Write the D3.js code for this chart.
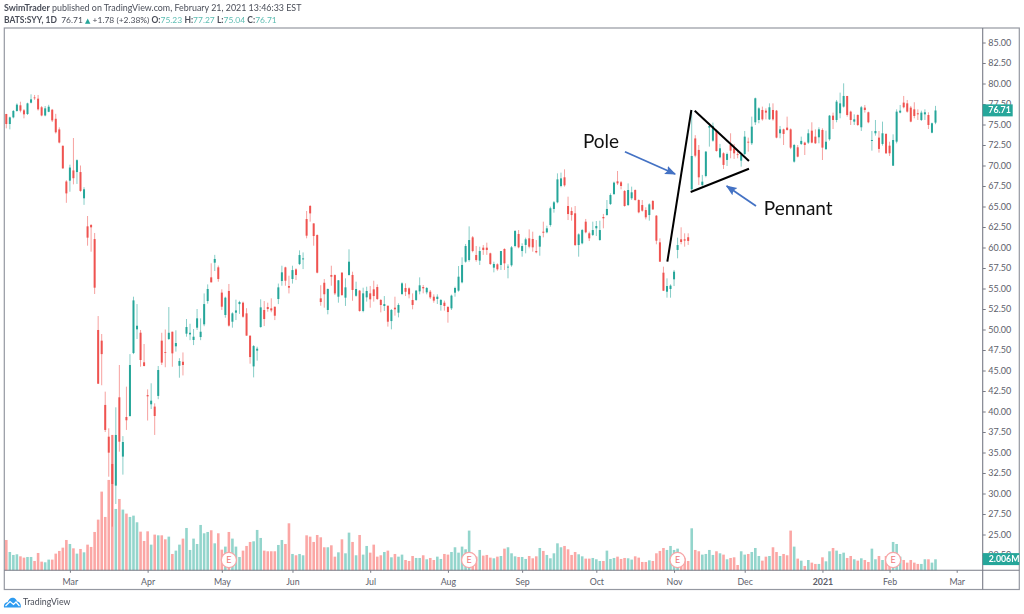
<!DOCTYPE html>
<html><head><meta charset="utf-8">
<script src="https://cdn.jsdelivr.net/npm/d3@7"></script>
<style>html,body{margin:0;padding:0;background:#fff}svg{display:block;filter:blur(.35px)}</style>
</head><body><svg id="c" width="1024" height="614"></svg>
<script>
const opens=[76.28,75.06,75.87,76.65,77.34,76.73,76.28,77.66,78.3,78.15,
77.1,76.1,76.55,76.8,75.7,74.4,72.4,68.05,68.15,69.4,
69.2,69.2,66,62.58,62.74,61.03,49.94,48.64,40.8,36.93,
33.6,30.96,41.73,34.5,39.33,39.45,47.13,50.02,49.61,46.0,
42.0,40.88,40.6,41.9,48.64,47.25,48.84,49.73,47.95,45.58,
46.07,49.49,49.4,48.72,50.22,49.08,50.63,53.47,56.36,58.15,
57.58,54.5,51.77,54.7,50.95,52.05,53.1,53.27,51.97,49.25,
45.5,47.42,50.3,52.38,52.74,52.58,52.78,53.72,55.91,57.58,
55.3,56.16,57.33,57.98,58.55,63.47,65.06,62.94,61.52,53.8,
55.7,52.38,56.64,56.64,54.0,56.93,53.88,56.65,56.65,54.11,
54.74,52.26,53.92,54.41,54.9,55.18,53.6,52.87,52.9,51.03,
52.66,52.05,54.33,55.06,55.02,53.6,53.6,54.65,55.18,54.53,
54.61,54.0,53.72,52.99,53.27,52.74,52.58,54.49,54.74,55.75,
58.27,58.47,61.24,59.08,58.4,59.98,59.98,59.29,57.54,57.95,
57.87,59.82,57.6,57.83,60.18,61.65,59.57,60.31,61.12,61.04,
59.57,60.1,61.93,61.85,62.74,64.7,65.51,67.5,68.56,65.06,
64.45,64.17,60.3,60.51,63.15,61.73,61.53,62.34,60.91,63.72,
63.96,65.3,66.52,68.07,67.95,66.89,65.18,66.0,67.01,65.79,
65.18,64.57,63.96,65.67,63.88,60.63,56.93,54.61,54.94,56.12,
59.7,61.0,61.0,61.25,67.1,73.3,71.9,67.63,68.72,74.62,
73.03,74.21,71.0,71.49,70.68,72.5,72.1,71.37,70.59,71.4,
72.9,72.71,75.27,75.55,76.77,76.69,75.63,76.77,76.69,73.93,
74.41,74.62,74.41,70.47,72.22,72.63,72.79,72.79,74.25,73.52,
73.44,74.33,72.0,73.2,76.08,75.55,76.37,77.18,78.48,76.57,
75.35,76.16,74.66,77.06,76.49,72.99,73.93,73.4,72.63,73.85,
72.42,69.98,72.91,76.45,77.67,77.58,77.06,76.85,76.37,75.55,
76.24,76.16,74.0,75.23];
const highs=[76.3,75.96,76.77,77.58,77.78,76.89,77.66,78.68,78.6,78.6,
77.25,77.25,77.4,76.9,76.3,74.65,72.45,68.2,70.1,73.35,
70.75,70,67.35,63.84,62.86,61.77,51.64,49.45,42.42,37.95,
37.14,40.51,45.67,37.0,43.03,47.0,54,53.1,49.94,48.23,
42.7,43.44,41.0,45.55,49.6,50.0,52.74,49.73,49.9,46.5,
47.2,51.28,50.7,50.06,52.5,51.36,54.4,55.5,58.07,59.1,
57.8,54.9,54,55.55,52.1,53.64,53.5,53.4,52.6,49.25,
48.1,47.9,53.68,53.47,53.27,53.8,52.78,55.6,57.78,57.66,
56.56,57.78,57.46,59.65,59.4,64.45,65.18,62.94,61.6,55.4,
56.15,55.0,57.78,56.72,56.03,57,56.24,59.78,57.05,55.83,
54.82,55.1,55.22,55.3,55.95,55.5,53.72,54.08,52.9,52.5,
54,53.2,55.75,55.63,55.14,54.4,54.82,56.36,55.43,55.18,
54.82,54.29,54.29,53.72,53.52,52.87,54.25,55.22,57.74,58.8,
60.43,62.58,61.4,60.18,60.1,60.3,60.59,59.37,58.27,58.07,
59.57,59.9,57.95,60.18,62.13,62.13,60.51,61.2,62.21,61.93,
60.91,61.53,63.15,62.66,64.98,65.67,69.04,69.13,69.53,66.2,
64.9,65.06,61.73,62.26,63.48,61.93,63.15,63.23,63.27,64.09,
65.79,66.6,68.03,69.33,68.11,67.01,67.82,67.42,67.09,65.87,
65.79,64.9,65.39,65.79,63.96,61.12,57.66,56.24,55.5,57.26,
61.2,62.46,61.73,61.73,76.77,73.7,72.5,68.85,71.77,75.15,
75.23,74.41,72.63,71.61,71.57,73.93,72.63,71.77,71.57,74.21,
73.4,75.96,78.28,77.1,77.18,76.97,77.58,77.58,76.77,74.82,
74.5,75.96,74.53,72.63,72.5,73.52,72.9,74.41,75.27,74.41,
74.66,74.53,74.25,76.16,76.45,77.99,78.89,80.02,78.48,76.69,
76.24,76.24,77.26,77.38,76.57,74.21,75.55,74.21,75.35,73.93,
72.9,73.8,76.85,77.38,78.48,77.99,77.26,77.71,76.85,76.69,
76.85,76.49,75.23,77.27];
const lows=[74.53,74.41,75.75,76.57,76.48,75.75,76.16,77.58,78.0,76.7,
76.0,76.0,76.5,75.3,73.9,72.7,69.6,65.45,66.8,67.7,
67.75,66.8,65.2,60.22,59.49,54.33,43.35,43.2,37.5,32.05,
25.96,28.72,35.1,32.3,37.75,39.37,47,48.84,45.46,45.5,
38.9,40.3,37.14,41.5,45.67,45.4,48.72,45.46,47.3,44.12,
44.4,49.12,48.7,48.1,49.94,48.7,50.4,53.15,55.75,57.13,
55.83,52.38,51.44,50.35,50.22,51.15,51.9,51.44,49.25,45.83,
44.16,46.2,50.22,50.42,52.17,52.1,51.15,53.1,55.34,55.34,
54.4,55.6,56.03,57.86,57.37,61.12,63.15,60.22,56.85,52.9,
52.66,51.85,55.34,54.2,53.27,54.1,52.87,56.57,53.5,54.0,
52.17,52.1,53.4,52.66,53.4,53.6,52.09,52.26,50.35,50.02,
51.69,51.48,54.2,54.08,53.8,52.46,53.48,54.29,54.41,54.29,
53.72,53.27,53.11,52.3,52.3,50.83,52.38,54.0,54.61,55.63,
58.15,58.27,59.41,58.27,57.87,59.1,59.1,57.87,56.97,57.17,
57.26,57.26,56.24,57.66,60.02,59.9,58.88,59.29,59.9,59.49,
59.29,59.0,61.24,61.73,62.54,64.25,65.39,67.34,67.42,63.35,
63.27,60.18,58.88,60.39,61.73,60.79,61.4,61.4,60.83,62.34,
63.88,65.18,66.4,67.62,67.09,64.98,65.06,65.8,65.71,64.17,
64.37,63.43,63.27,64.57,60.39,58.27,54.69,53.88,53.88,55.3,
58.68,60.39,60.1,60.31,67.0,71.0,67.63,67.42,68.56,72.3,
72.9,71.69,70.88,69.58,69.94,70.88,70.8,70.88,69.86,71.28,
71.69,72.5,74.94,75.15,75.47,75.63,75.55,75.47,73.32,73.32,
72.5,74.25,72.0,70.35,71.0,72.5,71.28,72.63,72.71,72.63,
72.71,70.67,71.89,73.03,74.45,75.27,75.76,77.06,75.96,74.94,
74.94,74.82,74.21,76.45,75.15,71.81,73.64,71.57,72.42,71.41,
71.16,69.94,72.7,76.37,76.97,76.45,75.27,75.76,75.55,75.43,
75.55,74.45,73.93,75.04];
const closes=[75.06,75.87,76.65,77.42,76.69,76.24,77.58,78.07,78.2,76.85,
76.1,76.97,77.17,75.5,74.05,72.8,69.65,66.6,69.75,68.45,
70.65,66.9,67.1,61.2,62.46,55.1,43.39,47.0,37.75,34.98,
31.16,37.14,36.32,36.28,38.93,45.67,53.55,50.46,46.28,45.55,
41.85,41.32,39.45,45.06,45.96,47.15,49.6,47.09,48.35,46.16,
45.67,50.3,49.6,49.12,51.36,49.73,53.1,54.94,55.75,58.6,
56.16,52.78,53.88,50.47,51.97,52.33,53.35,51.56,49.25,46.64,
47.98,47.66,52.7,51.28,52.5,52.33,51.68,55.14,56.97,55.95,
55.1,57.25,56.64,59.08,58.67,61.44,64.16,61.4,56.93,53.35,
54.3,54.94,56.44,54.4,56,54.2,55.14,58.27,54.82,54.94,
52.26,54.41,54.7,53.68,54.08,53.72,52.99,53.1,50.95,52.38,
52.46,52.99,55.63,54.6,54.29,52.99,54.74,55.39,55.02,55.06,
53.92,53.52,54.0,53.6,52.87,52.13,54.13,55.06,56.44,57.87,
60.18,60.91,59.57,58.47,59.57,59.7,59.7,57.99,57.99,57.34,
59.57,58.07,57.66,60.02,62.01,60.02,60.18,61.0,60.1,60.02,
59.41,61.4,61.8,62.34,64.78,65.51,68.31,68.43,67.58,64.08,
63.96,60.3,61.6,62.13,61.85,61.12,62.13,62.62,62.13,63.56,
64.7,66.4,67.91,67.82,67.5,65.06,67.01,66.73,65.79,64.29,
64.49,63.68,65.26,64.65,60.83,58.27,54.73,55.3,55.35,57.05,
60.3,60.67,60.84,60.8,71.16,71.2,68.56,68.03,71.69,74.82,
74.82,71.77,72.1,70.07,71.4,71.81,71.49,71.28,71.28,73.52,
72.79,74.74,78.2,76.97,75.63,76.45,77.1,75.63,73.4,74.41,
73.85,74.33,72.18,72.5,71.08,73,72.5,73.93,72.79,72.71,
74.41,72.18,72.9,76.08,75.55,77.79,77.58,78.48,76.16,75.55,
75.63,74.94,77.1,76.77,75.27,73.11,74.21,72.02,73.93,71.49,
71.49,73.11,76.57,76.69,77.1,76.57,75.35,76.04,76.24,76.45,
76.49,74.94,75.15,76.71];
const volumes=[5.53,3.34,2.80,2.92,2.55,2.31,2.43,2.43,1.70,3.16,
1.58,1.46,1.95,1.95,3.04,3.53,4.13,5.53,4.80,4.01,
3.04,3.89,3.28,4.68,4.26,6.99,9.24,14.35,9.73,16.48,
24.68,11.19,13.01,11.07,10.34,9.73,9.97,8.76,7.05,5.35,
7.11,4.68,6.51,6.38,6.38,5.65,6.14,2.98,3.59,4.68,
5.78,7.72,3.71,5.78,4.80,8.27,6.75,6.99,7.30,4.92,
6.75,3.77,4.32,6.99,5.78,4.32,2.43,3.59,4.44,5.17,
5.29,7.36,5.90,3.59,3.47,3.47,3.47,4.62,5.53,4.80,
8.57,2.98,2.74,2.98,2.74,6.38,6.14,5.17,6.44,6.02,
4.20,4.20,4.56,2.49,3.28,5.65,3.10,6.87,5.17,2.74,
6.44,2.86,4.44,3.22,4.68,2.49,2.74,3.34,3.59,2.37,
2.98,2.49,2.86,1.88,1.70,2.61,2.25,2.25,2.74,2.01,
2.25,1.88,2.49,2.07,2.98,2.86,3.34,4.20,3.22,4.32,
3.83,7.24,2.74,2.49,3.71,2.68,2.80,2.31,2.19,2.49,
2.61,3.95,4.20,3.10,2.55,2.43,2.43,2.07,2.61,2.19,
2.55,4.07,3.53,2.80,2.19,3.10,4.92,4.20,4.44,3.83,
2.80,3.34,2.92,2.55,2.13,2.13,2.25,2.01,1.70,1.70,
3.59,2.07,2.25,2.49,2.07,2.25,2.19,1.95,2.55,2.31,
1.52,1.52,1.82,1.70,3.10,3.53,4.07,3.71,4.44,3.71,
3.95,2.49,2.19,1.70,7.66,3.71,3.47,2.86,2.98,3.71,
2.80,3.47,3.10,2.86,2.01,2.25,2.37,0.97,3.47,2.86,
2.98,3.34,4.07,2.61,1.76,2.49,2.61,4.20,3.34,2.61,
2.98,2.74,7.24,4.32,2.13,1.76,0.79,1.88,1.40,1.16,
1.16,2.37,1.64,3.47,4.07,3.59,2.98,3.22,2.25,2.61,
2.01,1.76,2.19,1.88,1.52,3.95,2.01,2.61,1.88,2.61,
2.49,5.17,4.80,2.49,1.88,1.40,1.88,1.40,1.16,1.16,
2.01,2.01,1.40,2.006];

const monthLabels=["Mar","Apr","May","Jun","Jul","Aug","Sep","Oct","Nov","Dec","2021","Feb","Mar"];
const monthBars=[18,40,61,81,103,125,146,167,189,209,231,250,269];
const priceTicks=[22.5,25,27.5,30,32.5,35,37.5,40,42.5,45,47.5,50,52.5,55,57.5,60,62.5,65,67.5,70,72.5,75,77.5,80,82.5,85];
const earningsBars=[63,131,190,251];
const lastPrice=76.71, lastVolume=2.006;

const blackLines=[[187.1,58.27,193.9,76.77],[194.85,76.68,210.2,70.55],[193.7,66.77,210.2,69.6]];
const blueArrows=[[175.1,71.68,189.3,68.96],[212.2,65.06,203.9,67.5]];
const notes=[{t:"Pole",i:163.2,p:72.1},{t:"Pennant",i:214.4,p:64.0}];

const UP="#26a69a",DOWN="#ef5350",UPV="#93d5cc",DOWNV="#fba7a5",FRAME="#9598a1",AXIS="#787b86",LABEL="#5d606b";
const svg=d3.select("#c");
const x=d3.scaleLinear().domain([0,263]).range([6.3,935.5]);
const y=d3.scaleLinear().domain([80,25]).range([83.5,534.5]);
const v=d3.scaleLinear().domain([0,2.006]).range([570.3,559.3]);
const bars=d3.range(opens.length);
const isUp=i=>closes[i]>=opens[i];

const defs=svg.append("defs");
defs.append("marker").attr("id","ah").attr("markerUnits","userSpaceOnUse").attr("markerWidth",12).attr("markerHeight",10)
 .attr("refX",10).attr("refY",4.5).attr("orient","auto").append("path").attr("d","M0,0L11,4.5L0,9L2,4.5Z").attr("fill","#4472c4");

// frame
svg.append("rect").attr("x",4.3).attr("y",28).attr("width",1015).attr("height",561.5).attr("fill","#fff").attr("stroke",FRAME).attr("stroke-width",1.2);

// volume
svg.append("g").selectAll("rect").data(bars).join("rect")
 .attr("x",i=>x(i)-1.3).attr("width",2.6).attr("y",i=>v(volumes[i])).attr("height",i=>v(0)-v(volumes[i]))
 .attr("fill",i=>isUp(i)?UPV:DOWNV);

// candles
const cg=svg.append("g");
cg.selectAll("line").data(bars).join("line")
 .attr("x1",x).attr("x2",x).attr("y1",i=>y(highs[i])).attr("y2",i=>y(lows[i]))
 .attr("stroke",i=>isUp(i)?UP:DOWN).attr("stroke-opacity",.55).attr("stroke-width",1);
cg.selectAll("rect").data(bars).join("rect")
 .attr("x",i=>x(i)-1).attr("width",2).attr("y",i=>Math.min(y(opens[i]),y(closes[i])))
 .attr("height",i=>Math.max(.8,Math.abs(y(opens[i])-y(closes[i]))))
 .attr("fill",i=>isUp(i)?UP:DOWN);

// earnings
const eg=svg.append("g").selectAll("g").data(earningsBars).join("g").attr("transform",i=>`translate(${x(i)},560)`);
eg.append("circle").attr("r",7.6).attr("fill","#fff").attr("stroke","#f7a6a8").attr("stroke-width",1.3);
eg.append("text").text("E").attr("text-anchor","middle").attr("y",3.2).attr("font-family","Lato").attr("font-size",9).attr("fill","#ef7a7d");

// axes
const yAxis=d3.axisRight(y).tickValues(priceTicks).tickSize(3).tickPadding(2.5).tickFormat(d3.format(".2f"));
const yg=svg.append("g").attr("transform","translate(982.7,0)").call(yAxis);
yg.select(".domain").remove();
yg.append("line").attr("y1",28).attr("y2",589.5).attr("stroke",AXIS).attr("stroke-width",1.1);
yg.selectAll(".tick line").attr("stroke",AXIS);
yg.selectAll(".tick text").attr("font-family","Lato").attr("font-size",9).attr("fill",LABEL);

const xAxis=d3.axisBottom(x).tickValues(monthBars).tickSize(2.5).tickPadding(5.5)
 .tickFormat((d,i)=>monthLabels[i]);
const xg=svg.append("g").attr("transform","translate(0,570.3)").call(xAxis);
xg.select(".domain").remove();
xg.append("line").attr("x1",4.3).attr("x2",1019.3).attr("stroke",AXIS).attr("stroke-width",1.1);
xg.selectAll(".tick line").attr("stroke",AXIS);
xg.selectAll(".tick text").attr("font-family","Lato").attr("font-size",8.8).attr("fill",LABEL)
 .attr("font-weight",(d,i)=>monthLabels[i]==="2021"?700:400);

// last value labels
function tag(yy,w,txt,tx){
 const g=svg.append("g");
 g.append("rect").attr("x",982.7).attr("y",yy-6).attr("width",w).attr("height",12).attr("fill",UP);
 g.append("text").text(txt).attr("x",tx).attr("y",yy+3.1).attr("fill","#fff").attr("font-family","Lato").attr("font-weight",700).attr("font-size",8.8);
}
tag(y(lastPrice)-.1,30,d3.format(".2f")(lastPrice),988.3);
tag(v(lastVolume)-.2,36.6,lastVolume.toFixed(3)+"M",988.7);

// annotations
svg.append("g").selectAll("line").data(blackLines).join("line")
 .attr("x1",d=>x(d[0])).attr("y1",d=>y(d[1])).attr("x2",d=>x(d[2])).attr("y2",d=>y(d[3]))
 .attr("stroke","#000").attr("stroke-width",2);
svg.append("g").selectAll("line").data(blueArrows).join("line")
 .attr("x1",d=>x(d[0])).attr("y1",d=>y(d[1])).attr("x2",d=>x(d[2])).attr("y2",d=>y(d[3]))
 .attr("stroke","#4472c4").attr("stroke-width",1.8).attr("marker-end","url(#ah)");
svg.append("g").selectAll("text").data(notes).join("text").text(d=>d.t)
 .attr("x",d=>x(d.i)).attr("y",d=>y(d.p)).attr("font-family","Lato").attr("font-size",19).attr("fill","#111");

// header
const head=svg.append("g").attr("font-family","Lato").attr("fill","#4a4e59");
const t1=head.append("text").attr("x",4).attr("y",11).attr("font-size",8.9);
t1.append("tspan").text("SwimTrader").attr("font-weight",700);
t1.append("tspan").text(" published on TradingView.com, February 21, 2021 13:46:33 EST");
const t2=head.append("text").attr("x",4).attr("y",23).attr("font-size",8.47);
t2.append("tspan").text("BATS:SYY, 1D").attr("font-weight",700);
t2.append("tspan").text("  76.71 ").attr("xml:space","preserve");
t2.append("tspan").text("▲").attr("fill",UP).attr("font-size",7).attr("font-family","DejaVu Sans");
t2.append("tspan").text(" +1.78 (+2.38%) ");
[["O:","75.23"],["H:","77.27"],["L:","75.04"],["C:","76.71"]].forEach(([a,b])=>{
 t2.append("tspan").text(a).attr("font-weight",700);
 t2.append("tspan").text(b+" ").attr("fill","#5cbcb2");
});

// logo
const lg=svg.append("g").attr("transform","translate(4,597)");
lg.append("path").attr("d","M0,10.5C-.6,7 1.5,5.2 3.6,5.2C4.6,2 7,.2 9.4,.8C11.4,1.2 12.6,2.8 13.1,4.6C15.6,4.6 17.2,7 16.8,10.5Z").attr("fill","#2e9bf0");
lg.append("path").attr("d","M1.5,9L6,4.5L9.5,7.5L12,5L15.5,9").attr("fill","none").attr("stroke","#fff").attr("stroke-width",1.2);
svg.append("text").text("TradingView").attr("x",23).attr("y",605).attr("font-family","Lato").attr("font-size",8.8).attr("fill","#4a4e59");
</script></body></html>
